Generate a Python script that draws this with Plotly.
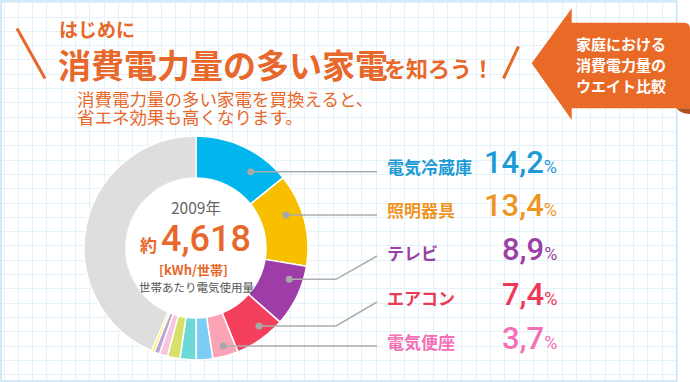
import plotly.graph_objects as go

W, H = 690, 382

# ---------------- data ----------------
categories = ["電気冷蔵庫", "照明器具", "テレビ", "エアコン", "電気便座",
              "家電6", "家電7", "家電8", "家電9", "家電10", "家電11", "その他"]
values = [14.2, 13.4, 8.9, 7.4, 3.7, 2.4, 2.3, 1.8, 1.2, 0.8, 0.4, 43.5]
slice_colors = ["#00B6EC", "#F8BE00", "#9E3CA8", "#F33F5B", "#FBA4B5",
                "#7CCDF3", "#6CD9D6", "#D7E06B", "#F7C6DC", "#B7A6D8", "#FFE800", "#DEDEDE"]
n_labeled = 5
label_colors = ["#1C9AD6", "#EF951F", "#9B3FA5", "#EC3A56", "#F46FB6"]

year_text = "2009年"
total_kwh = 4618
unit_text = "[kWh/世帯]"
total_caption = "世帯あたり電気使用量"

title_small = "はじめに"
title_big = "消費電力量の多い家電"
title_tail = "を知ろう！"
subtitle_lines = ["消費電力量の多い家電を買換えると、", "省エネ効果も高くなります。"]
banner_lines = ["家庭における", "消費電力量の", "ウエイト比較"]

# ---------------- layout constants (pixels) ----------------
ORANGE = "#E8672A"
JP = "Noto Sans CJK JP"
NUM = "Roboto, Arial, sans-serif"
CX, CY, R = 196, 248, 112
HOLE = 0.625
GRID = 14.31

label_x = 385
num_right = 559
label_y = [166.7, 209.5, 252.5, 297.5, 341.7]
num_y = [162.8, 205.8, 249.3, 294.3, 338.8]
# leader routes: list of points from dot to label
leaders = [
    [(250.7, 171.7), (377, 171.7)],
    [(286, 215), (377, 215)],
    [(289.3, 279.3), (336, 279.3), (377, 256)],
    [(259, 326), (336, 326), (377, 302)],
    [(223.3, 346), (377, 346)],
]

fig = go.Figure()

# dummy cartesian trace so that the pixel-mapped axes (and grid) exist
fig.add_trace(go.Scatter(x=[0], y=[0], mode="markers", marker=dict(opacity=0),
                         hoverinfo="skip", showlegend=False))

fig.add_trace(go.Pie(
    labels=categories, values=values, sort=False, direction="clockwise",
    rotation=0, hole=HOLE, textinfo="none", hoverinfo="skip",
    marker=dict(colors=slice_colors, line=dict(color="white", width=1.5)),
    domain=dict(x=[(CX - R) / W, (CX + R) / W],
                y=[1 - (CY + R) / H, 1 - (CY - R) / H]),
    showlegend=False,
))

shapes = []
# cover grid outside the frame
shapes.append(dict(type="rect", x0=677.5, x1=W + 2, y0=-2, y1=H + 2, fillcolor="white",
                   line=dict(width=0), layer="above"))
shapes.append(dict(type="rect", x0=-2, x1=W + 2, y0=381.5, y1=H + 2, fillcolor="white",
                   line=dict(width=0), layer="above"))
# frame
shapes.append(dict(type="rect", x0=1, x1=676.7, y0=1, y1=381, fillcolor="rgba(0,0,0,0)",
                   line=dict(color="#C6E4F6", width=1.5), layer="above"))
# white hole
hr = HOLE * R - 0.8
shapes.append(dict(type="circle", x0=CX - hr, x1=CX + hr, y0=CY - hr, y1=CY + hr,
                   fillcolor="white", line=dict(width=0), layer="above"))
# leader lines and dots
for pts in leaders:
    path = "M" + " L".join(f"{x},{y}" for x, y in pts)
    shapes.append(dict(type="path", path=path, line=dict(color="#ADADAD", width=1.5),
                       layer="above"))
    x, y = pts[0]
    shapes.append(dict(type="circle", x0=x - 3.5, x1=x + 3.5, y0=y - 3.5, y1=y + 3.5,
                       fillcolor="#A8A8A8", line=dict(width=0), layer="above"))
# title slashes
shapes.append(dict(type="line", x0=17, y0=28.5, x1=45, y1=78.5,
                   line=dict(color=ORANGE, width=3), layer="above"))
shapes.append(dict(type="line", x0=503.5, y0=78.5, x1=518.5, y1=46.5,
                   line=dict(color=ORANGE, width=3), layer="above"))
# banner arrow
shapes.append(dict(type="path",
                   path="M531.7,63.3 L571.7,8.3 L571.7,22.7 L684,22.7 Q690,22.7 690,29 "
                        "L690,108.3 L571.7,108.3 L571.7,120 Z",
                   fillcolor="#E96A27", line=dict(width=0), layer="above"))
shapes.append(dict(type="path",
                   path="M676.5,108.3 L690,108.3 L690,114 Q681,114 676.5,108.3 Z",
                   fillcolor="#B1501C", line=dict(width=0), layer="above"))

ann = []


def txt(x, y, text, size, color, family=JP, weight="normal", xanchor="center",
        yanchor="middle"):
    ann.append(dict(x=x, y=y, xref="x", yref="y", text=text, showarrow=False,
                    xanchor=xanchor, yanchor=yanchor,
                    font=dict(family=family, size=size, color=color, weight=weight)))


# titles
txt(57, 28.5, title_small, 19, ORANGE, weight="bold", xanchor="left")
txt(56, 64, title_big, 33, ORANGE, weight="bold", xanchor="left")
txt(382, 66.5, title_tail, 22, ORANGE, weight="bold", xanchor="left")
txt(75, 98, subtitle_lines[0], 17.5, ORANGE, weight="normal", xanchor="left")
txt(75, 116, subtitle_lines[1], 17.5, ORANGE, weight="normal", xanchor="left")

# banner
for i, line in enumerate(banner_lines):
    txt(621, 43.5 + i * 21, line, 15, "white", weight="bold")

# center texts
txt(CX, 207, year_text, 15.5, "#666666", family=JP)
txt(148.5, 244.5, "約", 17, ORANGE, weight="bold")
txt(158.5, 239, f"{total_kwh:,}", 36, ORANGE, family=NUM, weight=500, xanchor="left")
txt(CX - 3, 269, unit_text, 13, ORANGE, weight="bold")
txt(CX, 287, total_caption, 11.5, "#555555")

# labels
for i in range(n_labeled):
    c = label_colors[i]
    txt(label_x, label_y[i], categories[i], 17, c, weight="bold", xanchor="left")
    num = f"{values[i]:.1f}".replace(".", ",")
    txt(num_right, num_y[i],
        f"{num}<span style='font-size:18px;font-weight:400'>%</span>", 31, c, family=NUM,
        weight=500, xanchor="right")

fig.update_layout(
    width=W, height=H, margin=dict(l=0, r=0, t=0, b=0),
    paper_bgcolor="white", plot_bgcolor="white",
    xaxis=dict(range=[0, W], showgrid=True, gridcolor="#E3F1FB", gridwidth=1,
               tick0=4, dtick=GRID, zeroline=False, showticklabels=False,
               showline=False, ticks="", fixedrange=True),
    yaxis=dict(range=[H, 0], showgrid=True, gridcolor="#E3F1FB", gridwidth=1,
               tick0=2.7, dtick=GRID, zeroline=False, showticklabels=False,
               showline=False, ticks="", fixedrange=True),
    shapes=shapes, annotations=ann, showlegend=False,
)

fig.write_html("out.html", config={"displayModeBar": False},
               post_script="document.body.style.margin='0';document.body.style.padding='0';"
                           "document.body.style.overflow='hidden';")
